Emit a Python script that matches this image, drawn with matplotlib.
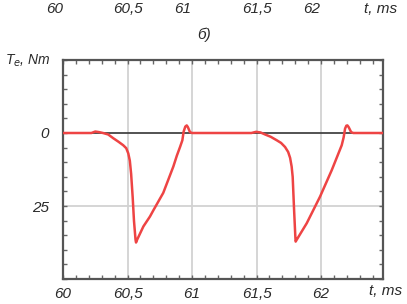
import matplotlib
matplotlib.use("Agg")
import matplotlib.pyplot as plt
from matplotlib.ticker import MultipleLocator

# ---- data ----
t_ms = [60.0, 60.22, 60.25, 60.28, 60.31, 60.35, 60.39, 60.43, 60.467, 60.49,
        60.506, 60.518, 60.528, 60.54, 60.55, 60.562, 60.566, 60.575, 60.623, 60.674,
        60.7, 60.777, 60.855, 60.882, 60.907, 60.925, 60.935, 60.948, 60.959, 60.968,
        60.984, 61.0, 61.46, 61.496, 61.53, 61.566, 61.61, 61.657, 61.69, 61.721,
        61.745, 61.76, 61.772, 61.78, 61.791, 61.8, 61.803, 61.812, 61.889, 61.992,
        62.083, 62.16, 62.175, 62.186, 62.196, 62.204, 62.214, 62.233, 62.25, 62.48]
te_nm = [0, 0, 0.5, 0.3, 0, -0.5, -1.8, -3, -4.2, -5.2,
         -7, -9.5, -14, -22, -30, -36.5, -37.5, -36.5, -32, -28.6,
         -26.5, -20.5, -11.5, -7.8, -4.8, -2.5, 0.5, 2.2, 2.6, 2,
         0.3, 0, 0, 0.4, 0.2, -0.5, -1.3, -2.5, -3.4, -4.8,
         -6.5, -8.5, -11.5, -15, -26.4, -35, -37.2, -36.5, -30.9, -21.8,
         -12.7, -4.2, -1.5, 1.5, 2.5, 2.6, 2, 0.3, 0, 0]

x_ticks = [60, 60.5, 61, 61.5, 62]
x_labels = ["60", "60,5", "61", "61,5", "62"]
y_ticks = [0, -25]
y_labels = ["0", "25"]
top_labels = ["60", "60,5", "61", "61,5", "62", "t, ms"]
top_label_x = [55, 128, 183, 257, 312, 381]

FONT = ['Liberation Sans Narrow', 'Liberation Sans', 'DejaVu Sans']
plt.rcParams['font.family'] = FONT

W, H = 407, 304
fig = plt.figure(figsize=(W / 100, H / 100), dpi=100)
fig.patch.set_facecolor('white')

left, right, top, bottom = 63, 383, 60, 279
ax = fig.add_axes([left / W, 1 - bottom / H, (right - left) / W, (bottom - top) / H])

ax.set_xlim(60, 62.48)
ax.set_ylim(-50, 25)

# grid
for xv in x_ticks[1:]:
    ax.axvline(xv, color='#d2d2d2', lw=1.3, zorder=1)
ax.axhline(-25, color='#d2d2d2', lw=1.3, zorder=1)
ax.axhline(0, color='#444444', lw=1.3, zorder=2)

ax.plot(t_ms, te_nm, color='#ee4444', lw=1.8, zorder=3, solid_joinstyle='round')

ax.set_xticks(x_ticks)
ax.set_xticklabels(x_labels)
ax.set_yticks(y_ticks)
ax.set_yticklabels(y_labels)
ax.xaxis.set_minor_locator(MultipleLocator(0.1))
ax.yaxis.set_minor_locator(MultipleLocator(5))
ax.tick_params(which='both', direction='in', top=True, right=True, color='#666666')
ax.tick_params(which='major', length=3, width=1, pad=6, labelsize=11)
ax.tick_params(which='minor', length=3, width=1)
for lab in ax.get_xticklabels() + ax.get_yticklabels():
    lab.set_style('italic')
    lab.set_color('#2a2a2a')
ax.tick_params(axis='y', pad=10)

for sp in ax.spines.values():
    sp.set_color('#555555')
    sp.set_linewidth(1.6)

# axis titles
fig.text(386 / W, 1 - 291 / H, "t, ms", style='italic', fontsize=11, color='#2a2a2a',
         ha='center', va='center')
fig.text(5 / W, 1 - 61 / H, "T$_e$, Nm", style='italic', fontsize=10, color='#2a2a2a',
         ha='left', va='center')
fig.text(204 / W, 1 - 35 / H, "б)", style='italic', fontsize=11, color='#2a2a2a',
         ha='center', va='center')

# remnant labels from previous chart at the top
for lab, xp in zip(top_labels, top_label_x):
    fig.text(xp / W, 1 - 9 / H, lab, style='italic', fontsize=11, color='#2a2a2a',
             ha='center', va='center')

fig.savefig("out.png", dpi=100, facecolor='white')
